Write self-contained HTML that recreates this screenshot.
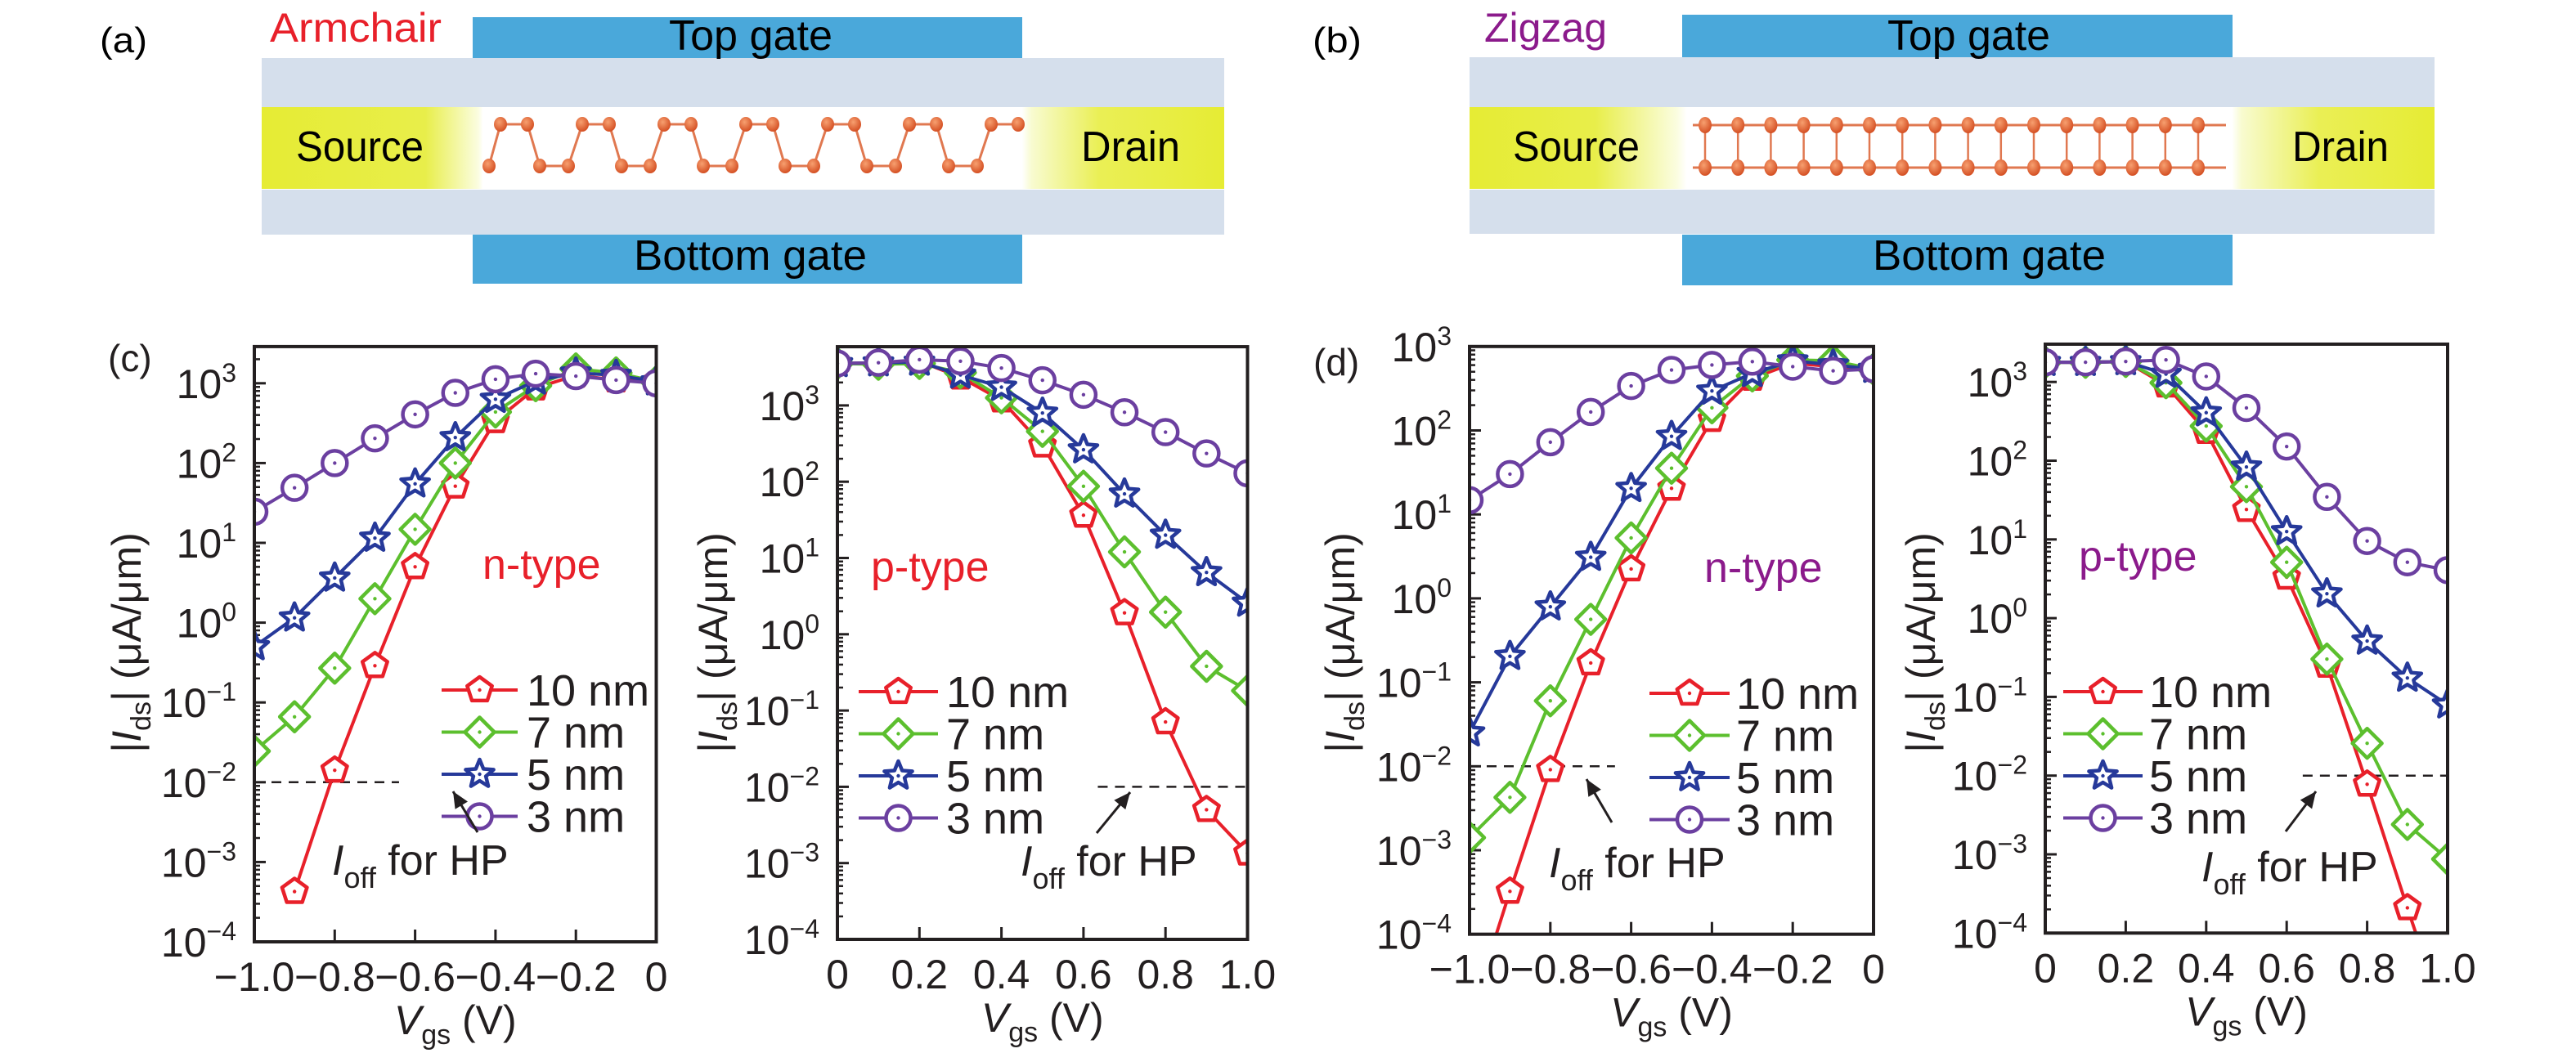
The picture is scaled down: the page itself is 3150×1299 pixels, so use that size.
<!DOCTYPE html>
<html><head><meta charset="utf-8"><style>
html,body{margin:0;padding:0;background:#fff;}
svg{display:block;font-family:"Liberation Sans",sans-serif;}
</style></head><body>
<svg id="fig" xmlns="http://www.w3.org/2000/svg" width="3150" height="1299" viewBox="0 0 3150 1299">
<defs>
<linearGradient id="ygA" x1="320" x2="1497" y1="0" y2="0" gradientUnits="userSpaceOnUse">
<stop offset="0" stop-color="#e6ec34"/><stop offset="0.17" stop-color="#e8ee4a"/><stop offset="0.225" stop-color="#fbfde0"/><stop offset="0.23" stop-color="#ffffff"/><stop offset="0.79" stop-color="#ffffff"/><stop offset="0.8" stop-color="#f8fbd0"/><stop offset="0.87" stop-color="#eaef55"/><stop offset="1" stop-color="#e6ec34"/>
</linearGradient>
<linearGradient id="ygB" x1="1797" x2="2977" y1="0" y2="0" gradientUnits="userSpaceOnUse">
<stop offset="0" stop-color="#e6ec34"/><stop offset="0.13" stop-color="#e8ee4a"/><stop offset="0.215" stop-color="#fbfde0"/><stop offset="0.225" stop-color="#ffffff"/><stop offset="0.79" stop-color="#ffffff"/><stop offset="0.8" stop-color="#f8fbd0"/><stop offset="0.88" stop-color="#eaef55"/><stop offset="1" stop-color="#e6ec34"/>
</linearGradient>
<radialGradient id="atom" cx="0.4" cy="0.35" r="0.7"><stop offset="0" stop-color="#f7a070"/><stop offset="1" stop-color="#d24a1e"/></radialGradient>
</defs>

<!-- Panel (a) -->
<g>
<text x="122" y="64" font-size="44" textLength="58" lengthAdjust="spacingAndGlyphs">(a)</text>
<text x="330" y="51" font-size="50" fill="#e8202a" textLength="210" lengthAdjust="spacingAndGlyphs">Armchair</text>
<rect x="320" y="71" width="1177" height="60" fill="#d5dfec"/>
<rect x="320" y="131" width="1177" height="100" fill="url(#ygA)"/>
<rect x="320" y="232" width="1177" height="55" fill="#d5dfec"/>
<rect x="578" y="21" width="672" height="50" fill="#4aa8da"/>
<rect x="578" y="287" width="672" height="60" fill="#4aa8da"/>
<text x="818" y="61" font-size="52" textLength="200" lengthAdjust="spacingAndGlyphs">Top gate</text>
<text x="775" y="330" font-size="52" textLength="285" lengthAdjust="spacingAndGlyphs">Bottom gate</text>
<text x="362" y="197" font-size="52" textLength="156" lengthAdjust="spacingAndGlyphs">Source</text>
<text x="1322" y="197" font-size="52" textLength="121" lengthAdjust="spacingAndGlyphs">Drain</text>
<g id="armAtoms"></g>
</g>

<!-- Panel (b) -->
<g>
<text x="1605" y="64" font-size="44" textLength="60" lengthAdjust="spacingAndGlyphs">(b)</text>
<text x="1815" y="51" font-size="50" fill="#8b1a8b" textLength="150" lengthAdjust="spacingAndGlyphs">Zigzag</text>
<rect x="1797" y="70" width="1180" height="61" fill="#d5dfec"/>
<rect x="1797" y="131" width="1180" height="100" fill="url(#ygB)"/>
<rect x="1797" y="232" width="1180" height="54" fill="#d5dfec"/>
<rect x="2057" y="18" width="673" height="52" fill="#4aa8da"/>
<rect x="2057" y="287" width="673" height="62" fill="#4aa8da"/>
<text x="2308" y="61" font-size="52" textLength="199" lengthAdjust="spacingAndGlyphs">Top gate</text>
<text x="2290" y="330" font-size="52" textLength="285" lengthAdjust="spacingAndGlyphs">Bottom gate</text>
<text x="1850" y="197" font-size="52" textLength="155" lengthAdjust="spacingAndGlyphs">Source</text>
<text x="2803" y="197" font-size="52" textLength="118" lengthAdjust="spacingAndGlyphs">Drain</text>
<g id="zigAtoms"></g>
</g>

<g id="charts"></g>
</svg>
<script>
// ===== Chart data: |Ids| values given as log10(uA/um) =====
var vgsNeg = [-1.0,-0.9,-0.8,-0.7,-0.6,-0.5,-0.4,-0.3,-0.2,-0.1,0];
var vgsPos = [0,0.1,0.2,0.3,0.4,0.5,0.6,0.7,0.8,0.9,1.0];
var seriesNames = ['10 nm','7 nm','5 nm','3 nm'];
var yTickExps = [3,2,1,0,-1,-2,-3,-4];
var xTickNeg = ['\u22121.0','\u22120.8','\u22120.6','\u22120.4','\u22120.2','0'];
var xTickNegVals = [-1.0,-0.8,-0.6,-0.4,-0.2,0];
var xTickPos = ['0','0.2','0.4','0.6','0.8','1.0'];
var xTickPosVals = [0,0.2,0.4,0.6,0.8,1.0];
var offThreshold = -2; // Ioff for HP = 1e-2

// (c) armchair n-type
var cN_10nm = [null,-3.37,-1.85,-0.54,0.70,1.71,2.53,2.94,3.10,3.04,3.02];
var cN_7nm  = [-1.61,-1.18,-0.57,0.30,1.17,2.00,2.64,2.97,3.18,3.13,3.02];
var cN_5nm  = [-0.30,0.06,0.56,1.06,1.74,2.32,2.80,3.03,3.13,3.10,3.02];
var cN_3nm  = [1.39,1.69,2.00,2.31,2.61,2.88,3.05,3.12,3.09,3.04,3.00];
// (c) armchair p-type
var cP_10nm = [3.55,3.56,3.58,3.37,3.07,2.48,1.56,0.28,-1.15,-2.30,-2.87];
var cP_7nm  = [3.55,3.54,3.55,3.43,3.10,2.66,1.94,1.08,0.29,-0.42,-0.74];
var cP_5nm  = [3.55,3.56,3.57,3.40,3.24,2.90,2.42,1.84,1.30,0.81,0.41];
var cP_3nm  = [3.55,3.56,3.60,3.58,3.49,3.33,3.14,2.91,2.65,2.37,2.11];
// (d) zigzag n-type
var dN_10nm = [-5.0,-3.49,-2.04,-0.77,0.35,1.31,2.13,2.62,2.80,2.76,2.73];
var dN_7nm  = [-2.85,-2.37,-1.22,-0.25,0.72,1.55,2.27,2.65,2.84,2.83,2.73];
var dN_5nm  = [-1.60,-0.69,-0.10,0.49,1.31,1.93,2.47,2.68,2.83,2.78,2.73];
var dN_3nm  = [1.17,1.48,1.86,2.22,2.53,2.72,2.78,2.82,2.76,2.71,2.73];
// (d) zigzag p-type
var dP_10nm = [3.25,3.25,3.26,2.96,2.37,1.38,0.52,-0.60,-2.11,-3.68,-5.2];
var dP_7nm  = [3.25,3.25,3.26,2.99,2.44,1.67,0.71,-0.52,-1.59,-2.62,-3.06];
var dP_5nm  = [3.25,3.25,3.26,3.10,2.61,1.92,1.10,0.31,-0.29,-0.76,-1.10];
var dP_3nm  = [3.25,3.25,3.26,3.28,3.07,2.67,2.18,1.54,0.98,0.71,0.61];

var NS = 'http://www.w3.org/2000/svg';
var colors = ['#e8202a','#5cbf2e','#26399a','#6b3fa0'];
var markers = ['pentagon','diamond','star','circle'];

function mk(tag, attrs, parent){
  var e = document.createElementNS(NS, tag);
  for (var k in attrs) e.setAttribute(k, attrs[k]);
  if (parent) parent.appendChild(e);
  return e;
}
function markerPath(type, cx, cy){
  var pts = [], i, a;
  if (type === 'pentagon'){
    for (i=0;i<5;i++){ a = -Math.PI/2 + i*2*Math.PI/5; pts.push((cx+16*Math.cos(a)).toFixed(1)+','+(cy+16*Math.sin(a)).toFixed(1)); }
  } else if (type === 'diamond'){
    pts = [cx+','+(cy-18),(cx+18)+','+cy,cx+','+(cy+18),(cx-18)+','+cy];
  } else if (type === 'star'){
    for (i=0;i<10;i++){ a = -Math.PI/2 + i*Math.PI/5; var r = i%2===0?18:8; pts.push((cx+r*Math.cos(a)).toFixed(1)+','+(cy+r*Math.sin(a)).toFixed(1)); }
  }
  return pts.join(' ');
}
function drawMarker(g, type, cx, cy, col){
  var m;
  if (type === 'circle') m = mk('circle',{cx:cx,cy:cy,r:15,fill:'#fff',stroke:col,'stroke-width':4.5}, g);
  else m = mk('polygon',{points:markerPath(type,cx,cy),fill:'#fff',stroke:col,'stroke-width':4.5,'stroke-linejoin':'round'}, g);
  
  
  var d = mk('circle',{cx:cx,cy:cy,r:2.2,fill:col}, g);
  
  
}
function addText(parent, x, y, size, anchor, parts, fill){
  var t = mk('text',{x:x,y:y,'font-size':size,'text-anchor':anchor,fill:fill||'#231f20'}, parent);
  parts.forEach(function(p){
    var s = mk('tspan',{}, t);
    if (p.it) s.setAttribute('font-style','italic');
    if (p.size) s.setAttribute('font-size', p.size);
    if (p.dy) s.setAttribute('dy', p.dy);
    s.textContent = p.t;
  });
  return t;
}

function drawPlot(cfg){
  var root = document.getElementById('charts');
  var g = mk('g',{}, root);
  
  
  var top = cfg.yb - cfg.topDec*cfg.dec;
  function sx(v){ return cfg.x0 + (v - cfg.xmin)/(cfg.xmax - cfg.xmin)*(cfg.x1 - cfg.x0); }
  function sy(l){ return cfg.yb - (l + 4)*cfg.dec; }
  var cid = 'clip_' + cfg.name;
  var cp = mk('clipPath',{id:cid}, g);
  mk('rect',{x:cfg.x0,y:top,width:cfg.x1-cfg.x0,height:cfg.yb-top}, cp);

  // y ticks + minor ticks
  var ticks = mk('g',{stroke:'#231f20','stroke-width':3}, g);
  
  
  for (var e=-4; e<=3; e++){
    var yy = sy(e);
    mk('line',{x1:cfg.x0,x2:cfg.x0+14,y1:yy,y2:yy}, ticks);
    for (var m=2;m<=9;m++){
      var ym = sy(e + Math.log10(m));
      if (ym < top) continue;
      mk('line',{x1:cfg.x0,x2:cfg.x0+7,y1:ym,y2:ym,'stroke-width':2.5}, ticks);
    }
  }
  yTickExps.forEach(function(ex){
    var exStr = ex < 0 ? '\u2212' + (-ex) : String(ex);
    var t = addText(g, cfg.x0-22, sy(ex)+18, 50, 'end', [{t:'10'},{t:exStr,size:32,dy:-20}]);
    
    
  });
  // x ticks
  cfg.xTickVals.forEach(function(v, i){
    var xx = sx(v);
    var l = mk('line',{x1:xx,x2:xx,y1:cfg.yb,y2:cfg.yb-15,stroke:'#231f20','stroke-width':3}, g);
    
    
    var t = addText(g, xx, cfg.yb+60, 50, 'middle', [{t:cfg.xTickLabels[i]}]);
    
    
  });

  // threshold dashed line
  var dl = mk('line',{x1:sx(cfg.dashFrom),x2:sx(cfg.dashTo),y1:sy(offThreshold),y2:sy(offThreshold),stroke:'#231f20','stroke-width':2.5,'stroke-dasharray':'12,9'}, g);
  
  

  // series
  var sg = mk('g',{'clip-path':'url(#'+cid+')'}, g);
  
  
  cfg.series.forEach(function(vals, si){
    var s = mk('g',{}, sg);
    
    
    var pts = [];
    vals.forEach(function(v, i){ if (v !== null) pts.push(sx(cfg.xs[i]).toFixed(1)+','+sy(v).toFixed(1)); });
    var pl = mk('polyline',{points:pts.join(' '),fill:'none',stroke:colors[si],'stroke-width':4,'stroke-linejoin':'round'}, s);
    
    
    vals.forEach(function(v, i){ if (v !== null) drawMarker(s, markers[si], sx(cfg.xs[i]), sy(v), colors[si]); });
  });

  // frame
  var fr = mk('rect',{x:cfg.x0,y:top,width:cfg.x1-cfg.x0,height:cfg.yb-top,fill:'none',stroke:'#231f20','stroke-width':4}, g);
  
  

  // legend
  var lg = mk('g',{}, g);
  
  
  seriesNames.forEach(function(n, si){
    var ry = cfg.leg.y + si*51.5;
    var e = mk('g',{}, lg);
    
    
    mk('line',{x1:cfg.leg.x1,x2:cfg.leg.x2,y1:ry,y2:ry,stroke:colors[si],'stroke-width':4}, e);
    drawMarker(e, markers[si], (cfg.leg.x1+cfg.leg.x2)/2, ry, colors[si]);
    var t = addText(e, cfg.leg.tx, ry+19, 54, 'start', [{t:n}]);
    
    
  });

  // type label
  var tl = addText(g, cfg.type.x, cfg.type.y, 52, 'start', [{t:cfg.type.t}], cfg.type.c);
  
  

  // Ioff annotation
  var ia = addText(g, cfg.ioff.x, cfg.ioff.y, 52, 'start', [{t:'I',it:true},{t:'off',size:36,dy:16},{t:' for HP',dy:-16}]);
  
  
  var ax = cfg.arrow;
  var ar = mk('g',{stroke:'#231f20',fill:'#231f20'}, g);
  
  
  mk('line',{x1:ax[0],y1:ax[1],x2:ax[2],y2:ax[3],'stroke-width':3}, ar);
  var ang = Math.atan2(ax[3]-ax[1], ax[2]-ax[0]);
  var hx = ax[2], hy = ax[3], L = 20, W = 9;
  var bx = hx - L*Math.cos(ang), by = hy - L*Math.sin(ang);
  mk('polygon',{points:hx+','+hy+' '+(bx+W*Math.sin(ang))+','+(by-W*Math.cos(ang))+' '+(bx-W*Math.sin(ang))+','+(by+W*Math.cos(ang)),stroke:'none'}, ar);

  // axis titles
  var xc = (cfg.x0+cfg.x1)/2;
  var xt = addText(g, xc, cfg.yb+113, 50, 'middle', [{t:'V',it:true},{t:'gs',size:34,dy:12},{t:' (V)',dy:-12}]);
  
  
  var yt = addText(g, 0, 0, 50, 'middle', [{t:'|'},{t:'I',it:true},{t:'ds',size:34,dy:12},{t:'| (\u03bcA/\u03bcm)',dy:-12}]);
  yt.setAttribute('transform', 'translate(' + (cfg.ytx+17) + ',' + cfg.yty + ') rotate(-90)');
  
  
}

drawPlot({name:'plot-c-armchair-n-type', x0:311, x1:802.5, xmin:-1, xmax:0, yb:1152, dec:97.6, topDec:7.46,
  xs:vgsNeg, xTickVals:xTickNegVals, xTickLabels:xTickNeg, series:[cN_10nm,cN_7nm,cN_5nm,cN_3nm],
  dashFrom:-1, dashTo:-0.64, leg:{x1:540,x2:633,tx:644,y:844},
  type:{t:'n-type',x:590,y:708,c:'#e8202a'}, ioff:{x:406,y:1070}, arrow:[584,1018,554,968], ytx:155, yty:786});
drawPlot({name:'plot-c-armchair-p-type', x0:1024, x1:1525.5, xmin:0, xmax:1, yb:1149, dec:93.3, topDec:7.77,
  xs:vgsPos, xTickVals:xTickPosVals, xTickLabels:xTickPos, series:[cP_10nm,cP_7nm,cP_5nm,cP_3nm],
  dashFrom:0.635, dashTo:1.0, leg:{x1:1050,x2:1147,tx:1157,y:846},
  type:{t:'p-type',x:1065,y:711,c:'#e8202a'}, ioff:{x:1248,y:1071}, arrow:[1341,1019,1382,969], ytx:872, yty:786});
drawPlot({name:'plot-d-zigzag-n-type', x0:1797, x1:2291, xmin:-1, xmax:0, yb:1142.7, dec:102.7, topDec:7.0,
  xs:vgsNeg, xTickVals:xTickNegVals, xTickLabels:xTickNeg, series:[dN_10nm,dN_7nm,dN_5nm,dN_3nm],
  dashFrom:-1, dashTo:-0.64, leg:{x1:2017,x2:2115,tx:2123,y:848},
  type:{t:'n-type',x:2084,y:712,c:'#8b1a8b'}, ioff:{x:1894,y:1073}, arrow:[1971,1006,1940,953], ytx:1639, yty:786});
drawPlot({name:'plot-d-zigzag-p-type', x0:2501, x1:2993, xmin:0, xmax:1, yb:1141.3, dec:96.3, topDec:7.48,
  xs:vgsPos, xTickVals:xTickPosVals, xTickLabels:xTickPos, series:[dP_10nm,dP_7nm,dP_5nm,dP_3nm],
  dashFrom:0.64, dashTo:1.0, leg:{x1:2523,x2:2620,tx:2628,y:846},
  type:{t:'p-type',x:2542,y:698,c:'#8b1a8b'}, ioff:{x:2692,y:1078}, arrow:[2795,1017,2832,968], ytx:2349, yty:786});

// panel labels (c), (d)
(function(){
  var svg = document.getElementById('fig');
  var c = addText(svg, 132, 454, 46, 'start', [{t:'(c)'}]);
  
  
  var d = addText(svg, 1606, 459, 46, 'start', [{t:'(d)'}]);
  
  
})();

// device illustrations (atoms)
(function(){
  var ga = document.getElementById('armAtoms');
  var topY = 152, botY = 203, chain = [];
  chain.push([598, botY]);
  for (var k=0;k<7;k++){
    chain.push([612+100*k, topY]); chain.push([645+100*k, topY]);
    if (k<6){ chain.push([660+100*k, botY]); chain.push([695+100*k, botY]); }
  }
  var pts = chain.map(function(p){return p.join(',');}).join(' ');
  var pl = mk('polyline',{points:pts,fill:'none',stroke:'#e07850','stroke-width':3}, ga);
  
  
  chain.forEach(function(p){
    var a = mk('ellipse',{cx:p[0],cy:p[1],rx:8,ry:9,fill:'url(#atom)'}, ga);
    
    
  });
  var gz = document.getElementById('zigAtoms');
  var zt = 153, zb = 205;
  mk('line',{x1:2070,x2:2722,y1:zt,y2:zt,stroke:'#e07850','stroke-width':3}, gz);
  mk('line',{x1:2070,x2:2722,y1:zb,y2:zb,stroke:'#e07850','stroke-width':3}, gz);
  for (var i=0;i<16;i++){
    var x = 2085 + 40.2*i;
    mk('line',{x1:x,x2:x,y1:zt,y2:zb,stroke:'#e07850','stroke-width':2.5}, gz);
    [zt,zb].forEach(function(y){
      var a = mk('ellipse',{cx:x,cy:y,rx:8,ry:10,fill:'url(#atom)'}, gz);
      
      
    });
  }
})();
</script>
</body></html>
